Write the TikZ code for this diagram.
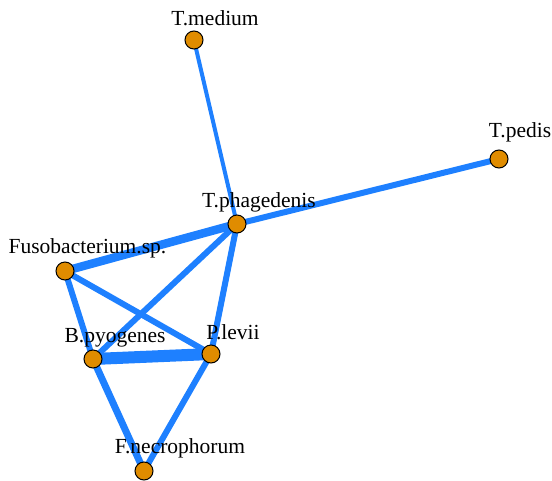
\documentclass[tikz,border=0pt]{standalone}
\usepackage{fontspec}
\setmainfont{Liberation Serif}
\definecolor{edgeblue}{RGB}{30,128,255}
\definecolor{nodeorange}{RGB}{224,140,0}
\begin{document}
\begin{tikzpicture}[x=1pt,y=-1pt,
  vert/.style={circle,draw=black,line width=1pt,fill=nodeorange,minimum size=18pt,inner sep=0pt},
  lab/.style={anchor=base,inner sep=0pt,font=\fontsize{21.5}{21.5}\selectfont},
  edge/.style={draw=edgeblue}]
\useasboundingbox (0,0) rectangle (552,480);
\coordinate (tmed) at (194,40);
\coordinate (tped) at (499,159);
\coordinate (tpha) at (237,224);
\coordinate (fuso) at (65,271);
\coordinate (bpyo) at (93,359);
\coordinate (plev) at (211,354);
\coordinate (fnec) at (144,471);
\draw[edge,line width=4pt] (tmed) -- (tpha);
\draw[edge,line width=6pt] (tped) -- (tpha);
\draw[edge,line width=8.5pt] (fuso) -- (tpha);
\draw[edge,line width=6pt] (fuso) -- (plev);
\draw[edge,line width=6pt] (fuso) -- (bpyo);
\draw[edge,line width=6pt] (bpyo) -- (tpha);
\draw[edge,line width=6pt] (plev) -- (tpha);
\draw[edge,line width=12pt] (bpyo) -- (plev);
\draw[edge,line width=7pt] (bpyo) -- (fnec);
\draw[edge,line width=6pt] (plev) -- (fnec);
\node[vert] (ntmed) at (tmed) {};
\node[vert] (ntped) at (tped) {};
\node[vert] (ntpha) at (tpha) {};
\node[vert] (nfuso) at (fuso) {};
\node[vert] (nbpyo) at (bpyo) {};
\node[vert] (nplev) at (plev) {};
\node[vert] (nfnec) at (fnec) {};
\node[lab] (ltmed) at (215,25) {T.medium};
\node[lab] (ltped) at (520,137) {T.pedis};
\node[lab] (ltpha) at (259,207) {T.phagedenis};
\node[lab] (lfuso) at (87.5,253) {Fusobacterium.sp.};
\node[lab] (lbpyo) at (115,342) {B.pyogenes};
\node[lab] (lplev) at (233,339) {P.levii};
\node[lab] (lfnec) at (180,453) {F.necrophorum};
\end{tikzpicture}
\end{document}
